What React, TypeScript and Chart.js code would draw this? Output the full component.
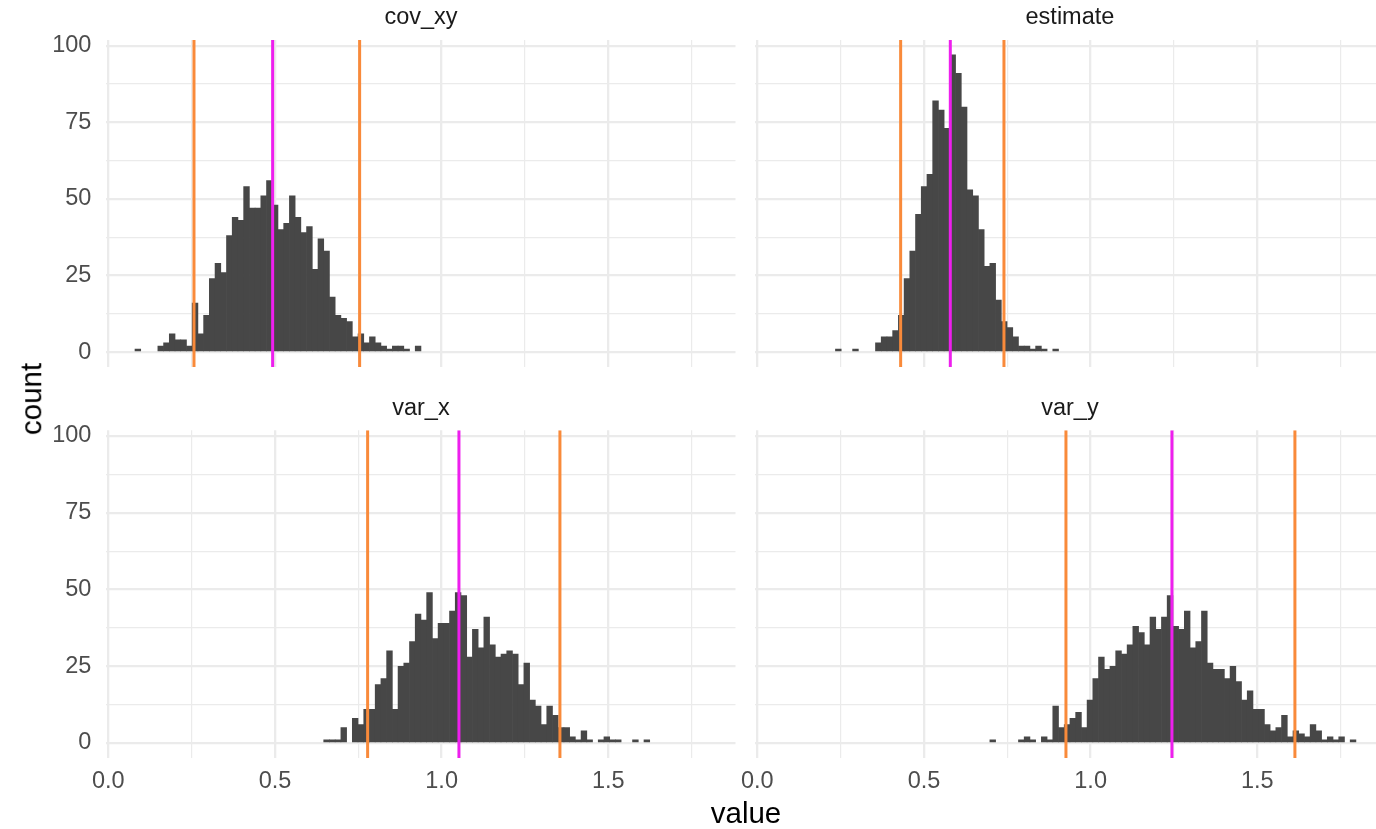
import React, { useEffect, useRef } from 'react';
import { Chart, registerables } from 'chart.js';

Chart.register(...registerables);

// ---------- data ----------
const binStart = 0.08;
const binWidth = 0.01716;

const facetTitles = ['cov_xy', 'estimate', 'var_x', 'var_y'];

const covXyFirstBin = 0;
const covXyCounts = [
  1, 0, 0, 0, 2, 3, 6, 4, 4, 2,
  16, 6, 12, 24, 29, 26, 38, 44, 43, 54,
  47, 47, 51, 56, 48, 40, 42, 51, 44, 39,
  41, 27, 37, 33, 18, 12, 11, 10, 5, 6,
  3, 5, 3, 2, 1, 2, 2, 1, 0, 2,
];

const estimateFirstBin = 9;
const estimateCounts = [
  1, 0, 0, 1, 0, 0, 0, 3, 5, 5,
  7, 12, 24, 33, 45, 54, 58, 82, 79, 73,
  97, 91, 80, 53, 51, 40, 28, 29, 17, 10,
  8, 5, 2, 2, 1, 2, 1, 0, 1,
];

const varXFirstBin = 33;
const varXCounts = [
  1, 1, 1, 5, 0, 8, 6, 11, 11, 19,
  21, 30, 11, 25, 26, 33, 42, 40, 49, 34,
  39, 39, 43, 49, 48, 28, 37, 31, 41, 32,
  28, 29, 30, 29, 19, 26, 14, 12, 6, 12,
  9, 5, 5, 2, 1, 4, 1, 0, 1, 2,
  1, 1, 0, 0, 1, 0, 1,
];

const varYFirstBin = 36;
const varYCounts = [
  1, 0, 0, 0, 0, 1, 2, 1, 0, 2,
  1, 12, 5, 6, 8, 10, 5, 14, 21, 28,
  24, 25, 30, 29, 32, 38, 36, 32, 41, 37,
  41, 48, 38, 37, 43, 31, 33, 43, 26, 24,
  24, 21, 25, 20, 14, 17, 11, 11, 6, 4,
  5, 9, 2, 4, 3, 2, 6, 4, 1, 2,
  1, 2, 0, 1,
];

// [lower, mean, upper]
const covXyLines = [0.257, 0.493, 0.754];
const estimateLines = [0.43, 0.579, 0.74];
const varXLines = [0.778, 1.052, 1.355];
const varYLines = [0.926, 1.244, 1.613];

const xTickValues = [0, 0.25, 0.5, 0.75, 1, 1.25, 1.5, 1.75];
const xTickLabels = ['0.0', '', '0.5', '', '1.0', '', '1.5', ''];
const yTickValues = [0, 12.5, 25, 37.5, 50, 62.5, 75, 87.5, 100];
const yTickLabels = ['0', '', '25', '', '50', '', '75', '', '100'];

const xMin = -0.0058;
const xMax = 1.8818;
const yMin = -4.85;
const yMax = 101.85;

// ---------- style ----------
const FONT = '"Liberation Sans", Arial, Helvetica, sans-serif';
const barColor = '#474747';
const ciColor = '#f98a3a';
const meanColor = '#ee1fee';
const gridColor = '#ebebeb';
const tickColor = '#4d4d4d';
const stripColor = '#1a1a1a';

type PanelSpec = {
  title: string;
  first: number;
  counts: number[];
  lines: number[];
  left: number;
  top: number;
  width: number;
  height: number;
  padding: { left: number; right: number; top: number; bottom: number };
  yAxisWidth: number;
  xAxisHeight: number;
  showX: boolean;
  showY: boolean;
};

const panels: PanelSpec[] = [
  {
    title: facetTitles[0], first: covXyFirstBin, counts: covXyCounts, lines: covXyLines,
    left: 0, top: 0, width: 746, height: 380,
    padding: { left: 0, right: 10.5, top: 0, bottom: 13 },
    yAxisWidth: 106.4, xAxisHeight: 0, showX: false, showY: true,
  },
  {
    title: facetTitles[1], first: estimateFirstBin, counts: estimateCounts, lines: estimateLines,
    left: 700, top: 0, width: 696, height: 380,
    padding: { left: 55.4, right: 11.5, top: 0, bottom: 13 },
    yAxisWidth: 0, xAxisHeight: 0, showX: false, showY: false,
  },
  {
    title: facetTitles[2], first: varXFirstBin, counts: varXCounts, lines: varXLines,
    left: 0, top: 390, width: 746, height: 439,
    padding: { left: 0, right: 10.5, top: 0.3, bottom: 21.1 },
    yAxisWidth: 106.4, xAxisHeight: 50, showX: true, showY: true,
  },
  {
    title: facetTitles[3], first: varYFirstBin, counts: varYCounts, lines: varYLines,
    left: 700, top: 390, width: 696, height: 439,
    padding: { left: 55.4, right: 11.5, top: 0.3, bottom: 21.1 },
    yAxisWidth: 0, xAxisHeight: 50, showX: true, showY: false,
  },
];

function Panel({ spec }: { spec: PanelSpec }) {
  const ref = useRef<HTMLCanvasElement | null>(null);

  useEffect(() => {
    const canvas = ref.current;
    if (!canvas) return;
    // empty bins are left undrawn, as in the reference
    const bars = spec.counts.map((c, i) => ({
      x: binStart + (spec.first + i + 0.5) * binWidth,
      y: c > 0 ? c : null,
    }));
    const lineSets: any[] = spec.lines.map((v, i) => ({
      type: 'line',
      data: [
        { x: v, y: yMin },
        { x: v, y: yMax },
      ],
      borderColor: i === 1 ? meanColor : ciColor,
      borderWidth: 3,
      pointRadius: 0,
      fill: false,
      tension: 0,
      order: 0,
    }));

    const chart = new Chart(canvas, {
      type: 'bar',
      data: {
        datasets: [
          {
            type: 'bar',
            data: bars as any,
            backgroundColor: barColor,
            borderWidth: 0,
            barPercentage: 1,
            categoryPercentage: 1,
            order: 1,
          } as any,
          ...lineSets,
        ],
      },
      options: {
        animation: false,
        responsive: false,
        devicePixelRatio: 1,
        layout: { padding: spec.padding, autoPadding: false },
        plugins: {
          legend: { display: false },
          tooltip: { enabled: false },
          title: {
            display: true,
            text: spec.title,
            fullSize: false,
            color: stripColor,
            font: { family: FONT, size: 23.5, weight: 'normal', lineHeight: 1.2 },
            padding: { top: 3.7, bottom: 8.1 },
          },
        },
        scales: {
          x: {
            type: 'linear',
            min: xMin,
            max: xMax,
            bounds: 'data',
            offset: false,
            afterBuildTicks: (axis: any) => {
              axis.ticks = xTickValues.map((v) => ({ value: v }));
            },
            afterFit: (axis: any) => {
              axis.height = spec.xAxisHeight;
              axis.paddingLeft = 0;
              axis.paddingRight = 0;
              axis.paddingTop = 0;
              axis.paddingBottom = 0;
            },
            grid: {
              offset: false,
              color: gridColor,
              lineWidth: (ctx: any) =>
                ctx.tick && Math.abs((ctx.tick.value / 0.5) - Math.round(ctx.tick.value / 0.5)) < 1e-6 ? 2.3 : 1.2,
              drawTicks: false,
            },
            border: { display: false },
            ticks: {
              display: spec.showX,
              autoSkip: false,
              maxRotation: 0,
              minRotation: 0,
              padding: 10,
              color: tickColor,
              font: { family: FONT, size: 23.5, lineHeight: 1.2 },
              callback: (_v: any, i: number) => xTickLabels[i],
            },
          },
          y: {
            type: 'linear',
            min: yMin,
            max: yMax,
            bounds: 'data',
            afterBuildTicks: (axis: any) => {
              axis.ticks = yTickValues.map((v) => ({ value: v }));
            },
            afterFit: (axis: any) => {
              axis.width = spec.yAxisWidth;
              axis.paddingLeft = 0;
              axis.paddingRight = 0;
              axis.paddingTop = 0;
              axis.paddingBottom = 0;
            },
            grid: {
              color: gridColor,
              lineWidth: (ctx: any) =>
                ctx.tick && ctx.tick.value % 25 === 0 ? 2.3 : 1.2,
              drawTicks: false,
            },
            border: { display: false },
            ticks: {
              display: spec.showY,
              autoSkip: false,
              padding: 15,
              color: tickColor,
              font: { family: FONT, size: 23.5, lineHeight: 1.2 },
              callback: (_v: any, i: number) => yTickLabels[i],
            },
          },
        },
      } as any,
    });
    return () => chart.destroy();
  }, [spec]);

  return (
    <canvas
      ref={ref}
      width={spec.width}
      height={spec.height}
      style={{
        position: 'absolute',
        left: spec.left,
        top: spec.top,
        width: spec.width,
        height: spec.height,
      }}
    />
  );
}

export default function App() {
  return (
    <div
      style={{
        position: 'absolute',
        left: 0,
        top: 0,
        width: 1376,
        height: 829,
        overflow: 'hidden',
        background: '#ffffff',
      }}
    >
      {panels.map((p) => (
        <Panel key={p.title} spec={p} />
      ))}
      <div
        style={{
          position: 'absolute',
          left: 746,
          top: 813,
          transform: 'translate(-50%, -50%)',
          fontFamily: FONT,
          fontSize: 29.5,
          lineHeight: 1,
          color: '#000',
          whiteSpace: 'nowrap',
        }}
      >
        value
      </div>
      <div
        style={{
          position: 'absolute',
          left: 31,
          top: 399,
          transform: 'translate(-50%, -50%) rotate(-90deg)',
          fontFamily: FONT,
          fontSize: 29.5,
          lineHeight: 1,
          color: '#000',
          whiteSpace: 'nowrap',
        }}
      >
        count
      </div>
    </div>
  );
}
